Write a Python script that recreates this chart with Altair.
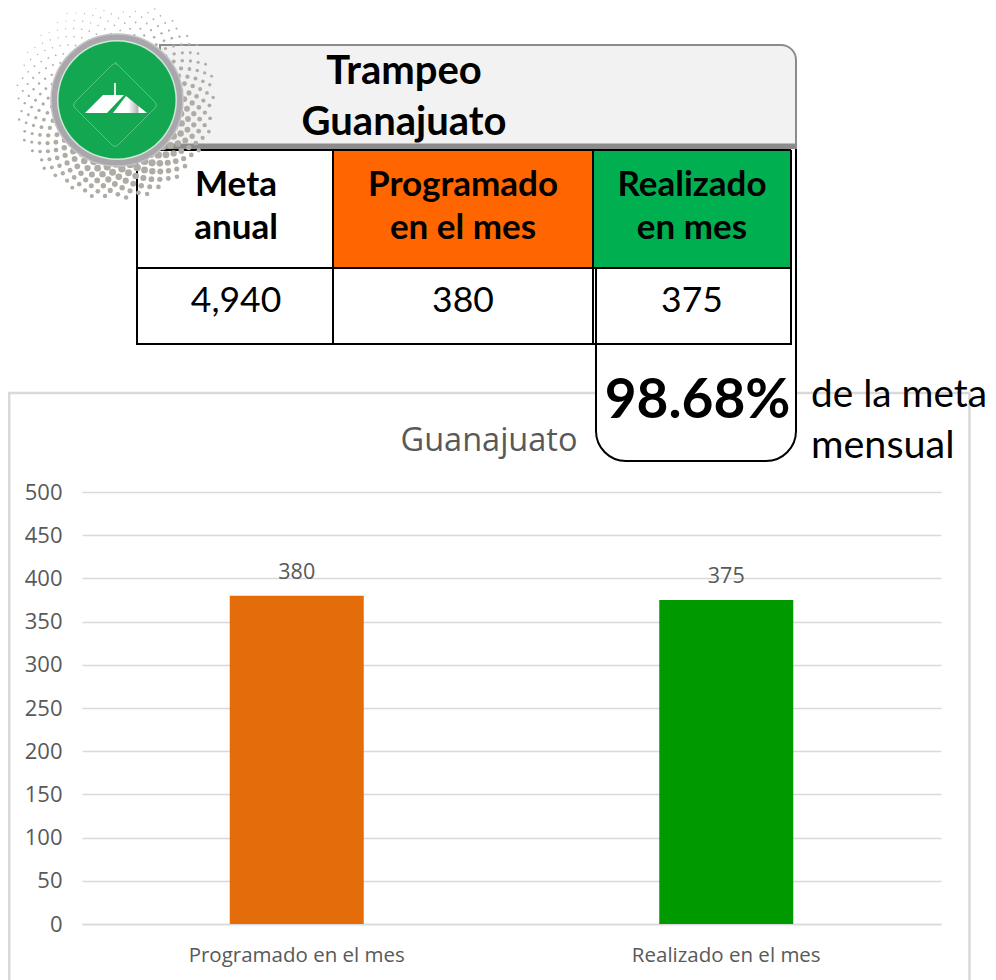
import math
import altair as alt
import pandas as pd

# ---- chart values ----
categories = ["Programado en el mes", "Realizado en el mes"]
values = [380, 375]
bar_colors = ["#E46C0A", "#009900"]
y_ticks = [0, 50, 100, 150, 200, 250, 300, 350, 400, 450, 500]

# ---- table text ----
header_cells = [["Meta", "anual"], ["Programado", "en el mes"], ["Realizado", "en mes"]]
row_cells = ["4,940", "380", "375"]

# page origin of the plot area
OX, OY = 82, 492
PW, PH = 859, 432
HEAD = "Lato"
BODY = "Open Sans"
one = pd.DataFrame({"k": [0]})


def X(v):
    return alt.value(v - OX)


def Y(v):
    return alt.value(v - OY)


def rect(x0, y0, x1, y1, **kw):
    return alt.Chart(one).mark_rect(**kw).encode(x=X(x0), x2=X(x1), y=Y(y0), y2=Y(y1))


def label(txt, x, y, size, weight="normal", color="#000000", font=HEAD, align="center"):
    return alt.Chart(one).mark_text(
        text=txt, font=font, fontSize=size, fontWeight=weight, color=color,
        align=align, baseline="middle",
    ).encode(x=X(x), y=Y(y))


def vline(x, y0, y1, w=2, color="#000000"):
    return rect(x - w / 2, y0, x + w / 2, y1, color=color)


def hline(y, x0, x1, w=2, color="#000000"):
    return rect(x0, y - w / 2, x1, y + w / 2, color=color)


def shape(path, cx, cy, **kw):
    # size=4 makes the custom path's units equal to pixels
    return alt.Chart(one).mark_point(shape=path, size=4, **kw).encode(x=X(cx), y=Y(cy))


# ---- outer frame of the chart ----
frame = [
    hline(393, 8, 970, w=2.5, color="#d9d9d9"),
    vline(9.25, 393, 980, w=2.5, color="#d9d9d9"),
    vline(969.5, 393, 980, w=2.5, color="#d9d9d9"),
]

# ---- bars ----
data = pd.DataFrame({"cat": categories, "val": values, "col": bar_colors})
x_enc = alt.X(
    "cat:N", sort=categories, title=None,
    scale=alt.Scale(paddingInner=0.688, paddingOuter=0.344),
    axis=alt.Axis(
        labelAngle=0, labelFont=BODY, labelFontSize=20.5, labelColor="#595959", labelLimit=400,
        labelPadding=21, ticks=False, domain=True, domainColor="#d9d9d9", domainWidth=1.5,
        grid=False,
    ),
)
y_enc = alt.Y(
    "val:Q", title=None,
    scale=alt.Scale(domain=[0, 500], nice=False),
    axis=alt.Axis(
        values=y_ticks, labelFont=BODY, labelFontSize=22, labelColor="#595959",
        labelPadding=20, ticks=False, domain=False, grid=True, gridColor="#d9d9d9",
        gridWidth=1.5,
    ),
)
bars = alt.Chart(data).mark_bar().encode(
    x=x_enc, y=y_enc, color=alt.Color("col:N", scale=None, legend=None)
)
bar_text = alt.Chart(data).mark_text(
    baseline="bottom", dy=-12, font=BODY, fontSize=21.5, color="#595959"
).encode(x=alt.X("cat:N", sort=categories), y=alt.Y("val:Q"), text=alt.Text("val:Q"))

chart_title = label("Guanajuato", 489, 440.5, 32.5, color="#595959", font=BODY)

# ---- capsule around the percentage ----
capsule = rect(
    596, 140, 796, 461, fill="#ffffff", stroke="#000000", strokeWidth=2,
    cornerRadiusBottomLeft=30, cornerRadiusBottomRight=30,
)

# ---- table ----
table_layers = [
    rect(137, 150, 333, 268, color="#ffffff"),
    rect(333, 150, 594, 268, color="#FF6600"),
    rect(594, 150, 791, 268, color="#00B050"),
    rect(137, 268, 791, 344, color="#ffffff"),
    hline(150, 137, 791),
    hline(268, 137, 791),
    hline(344, 136, 792),
    vline(137, 150, 344),
    vline(333, 150, 344),
    vline(593, 150, 344),
    vline(791, 150, 344),
    vline(596, 268, 344),
]

# ---- title panel ----
panel = [
    rect(160, 45, 796, 148, fill="#f2f2f2", stroke="#8c8c8c", strokeWidth=2,
         cornerRadiusTopRight=15, cornerRadiusTopLeft=0),
    hline(146, 160, 797, w=5, color="#8c8c8c"),
]

# ---- logo: halftone dots, rings, diamond, roof ----
dot_x, dot_y, dot_s = [], [], []
cx, cy = 115.0, 100.0
for n in range(190, 480):
    r = 4.55 * math.sqrt(n)
    a = n * 2.39996
    px, py = math.cos(a), math.sin(a)
    weight = 0.5 * py + 0.22 * px + 0.5
    rad = (0.9 + 3.0 * max(0.0, weight)) * max(0.6, 1.1 - (r - 66) / 70)
    dot_x.append(cx + r * px - OX)
    dot_y.append(cy + r * py - OY)
    dot_s.append(math.pi * rad * rad)
dots = alt.Chart(pd.DataFrame({"x": dot_x, "y": dot_y, "s": dot_s})).mark_circle(
    color="#aeaca5", opacity=1
).encode(
    x=alt.X("x:Q", scale=None, axis=None),
    y=alt.Y("y:Q", scale=None, axis=None),
    size=alt.Size("s:Q", scale=None, legend=None),
)


def circle(c, r, **kw):
    p = f"M{-r},0A{r},{r},0,1,1,{r},0A{r},{r},0,1,1,{-r},0Z"
    return shape(p, 117, 100, **kw)


logo = [
    circle(0, 66, filled=True, fill="#a9a7ab", stroke="#c4c3c6", strokeWidth=1.5, opacity=1),
    circle(0, 60, filled=True, fill="#cfe9d8", opacity=1),
    circle(0, 58.5, filled=True, fill="#14A751", opacity=1),
    shape("M0,-43L40,-3Q43,0,40,3L3,40Q0,43,-3,40L-40,3Q-43,0,-40,-3L-3,-40Q0,-43,3,-40Z",
          115, 105, filled=False, stroke="#5cc486", strokeWidth=1, opacity=1),
    shape("M-1,-13L1,-13L1,1L-1,1Z", 115, 96, filled=True, fill="#e8e8e8", opacity=1),
    shape("M-31,18L-13,0L8,0L-9,18Z", 116, 95, filled=True, fill="#ffffff", opacity=1),
    shape("M-3,18L10,1L31,18Z", 116, 95, filled=True, opacity=1,
          fill=alt.LinearGradient(
              gradient="linear", x1=0, y1=0, x2=1, y2=0,
              stops=[alt.GradientStop(color="#ffffff", offset=0),
                     alt.GradientStop(color="#ffffff", offset=0.45),
                     alt.GradientStop(color="#b5b5b5", offset=0.72),
                     alt.GradientStop(color="#ffffff", offset=0.78),
                     alt.GradientStop(color="#ffffff", offset=1)])),
]

# ---- texts ----
col_x = [236, 463, 692]
texts = [
    label("Trampeo", 404, 72, 40, "bold"),
    label("Guanajuato", 404, 123, 40, "bold"),
]
for cell, x_pos in zip(header_cells, col_x):
    texts.append(label(cell[0], x_pos, 185, 35, "bold"))
    texts.append(label(cell[1], x_pos, 228, 35, "bold"))
for cell, x_pos in zip(row_cells, col_x):
    texts.append(label(cell, x_pos, 301, 35.5))
texts += [
    label("98.68%", 697.5, 401, 55, "bold"),
    label("de la meta", 811, 395, 38.8, align="left"),
    label("mensual", 811, 446, 39.5, align="left"),
]

chart = alt.layer(
    *frame, bars, bar_text, chart_title, capsule, *table_layers, *panel, dots, *logo, *texts
).properties(
    width=PW, height=PH,
    padding={"left": OX - 8, "top": OY - 8, "right": 980 - (OX - 8) - PW, "bottom": 972 - (OY - 8) - PH},
    autosize=alt.AutoSizeParams(type="none"),
    background="#ffffff",
).configure_view(stroke=None)

chart.save("out.html", embed_options={"renderer": "svg", "actions": False})
